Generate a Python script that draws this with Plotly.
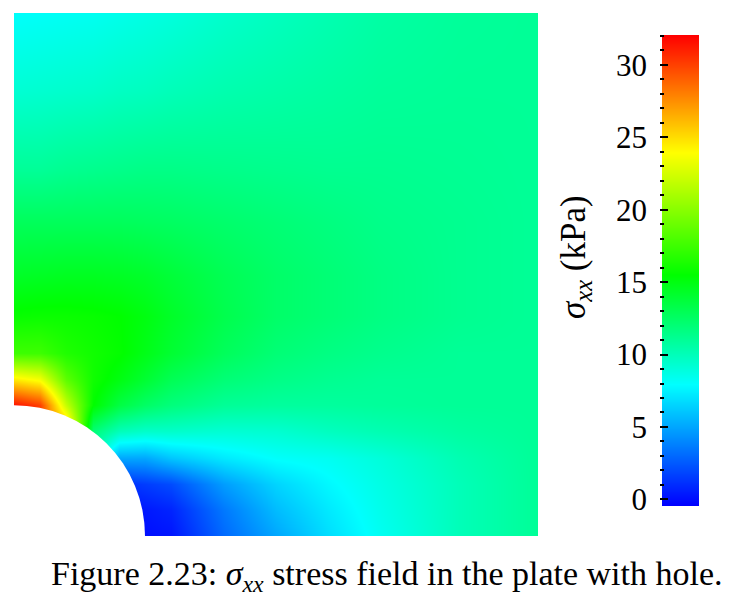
import numpy as np
import plotly.graph_objects as go

# the page keeps an 8px body margin, so everything is placed relative to that
W, H = 727, 589
PAD = 8
SERIF = "Liberation Serif, serif"

# sxx field (kPa), rows go bottom to top
x_pos = [0, .05, .1, .15, .2, .25, .3, .4, .5, .6, .7, .85, 1]
y_pos = [0, .05, .1, .15, .2, .25, .3, .35, .42, .5, .6, .7, .85, 1]
row_00 = [0, 0, 0, 0, 0, 0, .2, 3, 5, 6.8, 8.3, 10, 11]
row_05 = [0, 0, 0, 0, 0, .3, .7, 3.5, 5.7, 7.2, 8.5, 10, 11]
row_10 = [1, 1, 1, 1, 1, 1.5, 2, 4.7, 6.5, 7.7, 8.7, 10, 11]
row_15 = [14, 14, 14, 10, 5, 5, 6, 7.2, 8, 8.3, 9, 10.2, 11]
row_20 = [32, 30, 27, 12, 10, 9.5, 9.5, 9.2, 9.3, 9.8, 10.2, 10.7, 11]
row_25 = [31.5, 30, 22, 15.5, 13.5, 12.5, 11.8, 11, 10.8, 10.8, 10.9, 11, 11]
row_30 = [24.5, 23.5, 18.5, 16, 15, 14, 13, 12, 11.5, 11.2, 11, 11, 11]
row_35 = [17.5, 17.5, 16.5, 16, 15.6, 14.8, 14, 12.8, 12, 11.6, 11.3, 11, 11]
row_42 = [15.7, 15.8, 15.8, 15.7, 15.5, 15, 14.3, 13.2, 12.4, 12, 11.6, 11.2, 11]
row_50 = [14.3, 14.4, 14.5, 14.5, 14.4, 14.2, 13.8, 13, 12.4, 12, 11.6, 11.2, 11]
row_60 = [12.8, 12.8, 12.8, 12.8, 12.8, 12.7, 12.6, 12.3, 12, 11.7, 11.4, 11.2, 11]
row_70 = [11, 11, 11.2, 11.3, 11.4, 11.5, 11.5, 11.4, 11.3, 11.2, 11.2, 11.1, 11]
row_85 = [9.2, 9.3, 9.4, 9.5, 9.7, 9.8, 10, 10.3, 10.5, 10.7, 10.9, 11, 11]
row_100 = [8, 8.1, 8.2, 8.3, 8.5, 8.7, 8.9, 9.4, 9.8, 10.2, 10.6, 10.9, 11]
field = [row_00, row_05, row_10, row_15, row_20, row_25, row_30,
         row_35, row_42, row_50, row_60, row_70, row_85, row_100]

hole_radius = 0.25
z_min, z_max = -0.46, 32.07
major_ticks = [0, 5, 10, 15, 20, 25, 30]

RAINBOW = [
    [0.0, "#0000ff"],
    [0.257, "#00ffff"],
    [0.49, "#00ff00"],
    [0.75, "#ffff00"],
    [1.0, "#ff0000"],
]


def dom_x(a, b):
    return [(a - PAD) / W, (b - PAD) / W]


def dom_y(top, bottom):
    return [1 - (bottom - PAD) / H, 1 - (top - PAD) / H]


fig = go.Figure()

fig.add_trace(go.Heatmap(
    x=x_pos, y=y_pos, z=field,
    coloraxis="coloraxis",
    zsmooth="best",
    hoverinfo="skip",
))

# colour bar drawn as its own little heatmap so the labels can sit on the left
levels = np.linspace(z_min, z_max, 471)
fig.add_trace(go.Heatmap(
    x=[2, 39], y=levels,
    z=[[v] for v in levels],
    coloraxis="coloraxis",
    xaxis="x2", yaxis="y2",
    hoverinfo="skip",
))

fig.add_shape(
    type="circle", xref="x", yref="y",
    x0=-hole_radius, x1=hole_radius, y0=-hole_radius, y1=hole_radius,
    fillcolor="white", line_width=0,
)

fig.add_annotation(
    text="<i>σ<sub>xx</sub></i> (kPa)", textangle=-90,
    xref="paper", yref="paper", x=(575 - PAD) / W, y=1 - (257 - PAD) / H,
    xanchor="center", yanchor="middle",
    showarrow=False, font=dict(family=SERIF, size=35, color="black"),
)
fig.add_annotation(
    text="Figure 2.23: <i>σ<sub>xx</sub></i> stress field in the plate with hole.",
    xref="paper", yref="paper", x=(49 - PAD) / W, y=1 - (576 - PAD) / H,
    xanchor="left", yanchor="middle", showarrow=False,
    font=dict(family=SERIF, size=34, color="black"),
)

fig.update_layout(
    width=W, height=H,
    margin=dict(l=0, r=0, t=0, b=0),
    paper_bgcolor="white", plot_bgcolor="white",
    showlegend=False,
    font=dict(family=SERIF, size=31, color="black"),
    coloraxis=dict(colorscale=RAINBOW, cmin=z_min, cmax=z_max, showscale=False),
    xaxis=dict(domain=dom_x(14, 538), range=[0, 1], visible=False, automargin=False),
    yaxis=dict(domain=dom_y(13, 536), range=[0, 1], visible=False, automargin=False),
    xaxis2=dict(domain=dom_x(660, 699), range=[0, 39], visible=False, anchor="y2",
                automargin=False),
    yaxis2=dict(
        domain=dom_y(35, 506), range=[z_min, z_max], anchor="x2", side="left",
        automargin=False,
        showgrid=False, zeroline=False, showline=False,
        tickmode="array", tickvals=major_ticks,
        ticks="inside", ticklen=8, tickwidth=1.5, tickcolor="black",
        ticklabelstandoff=12,
        minor=dict(dtick=1, ticks="inside", ticklen=4, tickwidth=1.5,
                   tickcolor="black", showgrid=False),
    ),
)

fig.write_html("out.html")
